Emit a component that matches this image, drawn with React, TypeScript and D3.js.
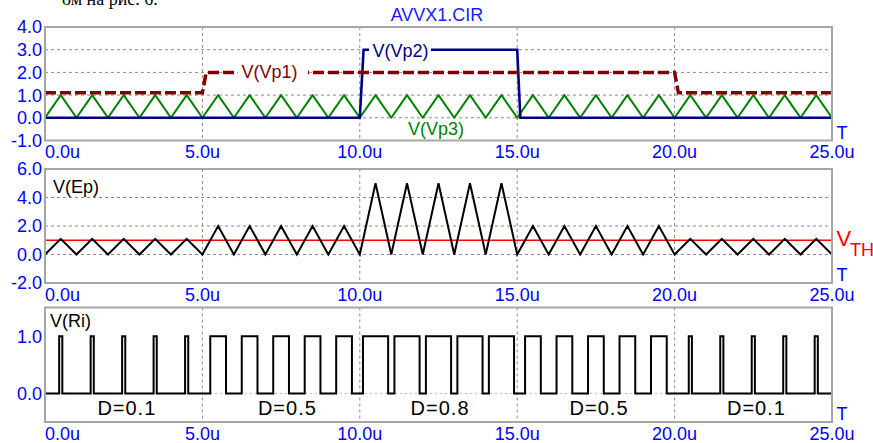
import React from 'react';
import * as d3 from 'd3';

// ---------- data ----------
const xTicks = [0, 5, 10, 15, 20, 25];
const xTickLabels = ['0.0u', '5.0u', '10.0u', '15.0u', '20.0u', '25.0u'];

const topYTicks = [4, 3, 2, 1, 0, -1];
const topYLabels = ['4.0', '3.0', '2.0', '1.0', '0.0', '-1.0'];
const midYTicks = [6, 4, 2, 0, -2];
const midYLabels = ['6.0', '4.0', '2.0', '0.0', '-2.0'];
const botYTicks = [1, 0];
const botYLabels = ['1.0', '0.0'];

// V(Vp1) step waveform (t in us, volts)
const vp1T = [0, 5, 5.12, 20, 20.12, 25];
const vp1V = [1.1, 1.1, 2.0, 2.0, 1.1, 1.1];

// V(Vp2) pulse
const vp2T = [0, 10, 10.12, 15, 15.1, 25];
const vp2V = [0, 0, 3.0, 3.0, 0, 0];

// Triangle sample times (us)
const triT = [
  0, 0.5, 1, 1.5, 2, 2.5, 3, 3.5, 4, 4.5, 5, 5.5, 6, 6.5, 7, 7.5, 8, 8.5, 9, 9.5,
  10, 10.5, 11, 11.5, 12, 12.5, 13, 13.5, 14, 14.5, 15, 15.5, 16, 16.5, 17, 17.5,
  18, 18.5, 19, 19.5, 20, 20.5, 21, 21.5, 22, 22.5, 23, 23.5, 24, 24.5, 25,
];
// V(Vp3) triangle 0..1
const vp3V = [
  0, 1, 0, 1, 0, 1, 0, 1, 0, 1, 0, 1, 0, 1, 0, 1, 0, 1, 0, 1,
  0, 1, 0, 1, 0, 1, 0, 1, 0, 1, 0, 1, 0, 1, 0, 1,
  0, 1, 0, 1, 0, 1, 0, 1, 0, 1, 0, 1, 0, 1, 0,
];
// V(Ep)
const epV = [
  0, 1.1, 0, 1.1, 0, 1.1, 0, 1.1, 0, 1.1, 0, 2, 0, 2, 0, 2, 0, 2, 0, 2,
  0, 5, 0, 5, 0, 5, 0, 5, 0, 5, 0, 2, 0, 2, 0, 2, 0, 2, 0, 2,
  0, 1.1, 0, 1.1, 0, 1.1, 0, 1.1, 0, 1.1, 0,
];
const vth = 1.0;

// V(Ri) PWM pulses: rising and falling edge times (us)
const riRise = [
  0.45, 1.45, 2.45, 3.45, 4.45,
  5.25, 6.25, 7.25, 8.25, 9.25,
  10.1, 11.1, 12.1, 13.1, 14.1,
  15.25, 16.25, 17.25, 18.25, 19.25,
  20.45, 21.45, 22.45, 23.45, 24.45,
];
const riFall = [
  0.55, 1.55, 2.55, 3.55, 4.55,
  5.75, 6.75, 7.75, 8.75, 9.75,
  10.9, 11.9, 12.9, 13.9, 14.9,
  15.75, 16.75, 17.75, 18.75, 19.75,
  20.55, 21.55, 22.55, 23.55, 24.55,
];

const dLabels = ['D=0.1', 'D=0.5', 'D=0.8', 'D=0.5', 'D=0.1'];
const dLabelT = [2.6, 7.7, 12.55, 17.6, 22.6];

// ---------- layout ----------
const W = 873;
const H = 443;
const FONT = 'Liberation Sans, Arial, Helvetica, sans-serif';
const X0 = 45;
const X1 = 832;

const x = d3.scaleLinear().domain([0, 25]).range([X0, X1]);
const yTop = d3.scaleLinear().domain([-1, 4]).range([140.5, 27]);
const yMid = d3.scaleLinear().domain([-2, 6]).range([283, 169]);
const yBot = d3.scaleLinear().domain([-0.5, 1.5]).range([422, 307.5]);

type Pt = [number, number];
const zip = (ts: number[], vs: number[]): Pt[] => ts.map((t, i) => [t, vs[i]]);

function Panel({
  y,
  yTicks,
  yLabels,
  hGrid,
  gridColor,
  gridDash,
}: {
  y: d3.ScaleLinear<number, number>;
  yTicks: number[];
  yLabels: string[];
  hGrid: number[];
  gridColor: string;
  gridDash: string;
}) {
  const [yb, yt] = y.range();
  return (
    <g>
      {xTicks.slice(1, -1).map((t) => (
        <line key={'v' + t} x1={x(t)} x2={x(t)} y1={yt} y2={yb} stroke="#8a8a8a" strokeWidth={1} strokeDasharray="3 3" />
      ))}
      {hGrid.map((v) => (
        <line key={'h' + v} x1={X0} x2={X1} y1={y(v)} y2={y(v)} stroke={gridColor} strokeWidth={1} strokeDasharray={gridDash} />
      ))}
      {yTicks.map((v, i) => (
        <text key={'yl' + v} x={42} y={y(v)} dy="0.36em" textAnchor="end" fontSize={18} fill="#0000ff" fontFamily={FONT}>
          {yLabels[i]}
        </text>
      ))}
      {xTicks.map((t, i) => (
        <text
          key={'xl' + t}
          x={i === 0 ? X0 : x(t)}
          y={yb + 17.5}
          textAnchor={i === 0 ? 'start' : 'middle'}
          fontSize={18}
          fill="#0000ff"
          fontFamily={FONT}
        >
          {xTickLabels[i]}
        </text>
      ))}
      <text x={836.5} y={yb - 2} fontSize={18} fill="#0000ff" fontFamily={FONT}>T</text>
    </g>
  );
}

function Frame({ y }: { y: d3.ScaleLinear<number, number> }) {
  const [yb, yt] = y.range();
  return <rect x={X0} y={yt} width={X1 - X0} height={yb - yt} fill="none" stroke="#a6a6a6" strokeWidth={2} />;
}

export default function App() {
  const lineTop = d3.line<Pt>().x((d) => x(d[0])).y((d) => yTop(d[1]));
  const lineMid = d3.line<Pt>().x((d) => x(d[0])).y((d) => yMid(d[1]));
  const lineBot = d3.line<Pt>().x((d) => x(d[0])).y((d) => yBot(d[1]));

  const riPts: Pt[] = [[0, 0]];
  riRise.forEach((r, i) => {
    riPts.push([r, 0], [r, 1], [riFall[i], 1], [riFall[i], 0]);
  });
  riPts.push([25, 0]);

  return (
    <svg width={W} height={H} style={{ position: 'absolute', left: 0, top: 0, background: '#fff' }}>
      <rect x={0} y={0} width={W} height={H} fill="#fff" />
      <text x={62} y={5} fontSize={18} fontFamily="Liberation Serif, Times New Roman, serif" fill="#000">
        ом на рис. 6.
      </text>
      <text x={437} y={20.5} textAnchor="middle" fontSize={18} fill="#1a1aff" fontFamily={FONT}>
        AVVX1.CIR
      </text>

      {/* ---------- top panel ---------- */}
      <Panel y={yTop} yTicks={topYTicks} yLabels={topYLabels} hGrid={[3, 2, 1, 0]} gridColor="#8a8a8a" gridDash="3 3" />
      <path d={lineTop(zip(triT, vp3V)) || ''} fill="none" stroke="#008000" strokeWidth={2} strokeLinejoin="round" />
      <path d={lineTop(zip(vp2T, vp2V)) || ''} fill="none" stroke="#000080" strokeWidth={2.6} />
      <path d={lineTop(zip(vp1T, vp1V)) || ''} fill="none" stroke="#800000" strokeWidth={3.5} strokeDasharray="11 4" />
      <rect x={238} y={62} width={70} height={19} fill="#fff" />
      <text x={241.5} y={77.5} fontSize={18} fill="#800000" fontFamily={FONT}>V(Vp1)</text>
      <rect x={369} y={40} width={62} height={19} fill="#fff" />
      <text x={372.5} y={57.3} fontSize={18} fill="#000080" fontFamily={FONT}>V(Vp2)</text>
      <text x={408} y={134.5} fontSize={18} fill="#008000" fontFamily={FONT}>V(Vp3)</text>
      <Frame y={yTop} />

      {/* ---------- middle panel ---------- */}
      <Panel y={yMid} yTicks={midYTicks} yLabels={midYLabels} hGrid={[4, 2, 0]} gridColor="#8a8a8a" gridDash="3 3" />
      <line x1={X0} x2={X1} y1={yMid(vth)} y2={yMid(vth)} stroke="#ff0000" strokeWidth={1.5} />
      <path d={lineMid(zip(triT, epV)) || ''} fill="none" stroke="#000" strokeWidth={2} strokeLinejoin="miter" />
      <text x={53} y={192.8} fontSize={18} fill="#000" fontFamily={FONT}>V(Ep)</text>
      <text x={836.5} y={246} fontSize={22} fill="#ff0000" fontFamily={FONT}>V</text>
      <text x={850} y={256} fontSize={18} fill="#ff0000" fontFamily={FONT}>TH</text>
      <Frame y={yMid} />

      {/* ---------- bottom panel ---------- */}
      <Panel y={yBot} yTicks={botYTicks} yLabels={botYLabels} hGrid={[0]} gridColor="#b8b8b8" gridDash="2 3" />
      <path d={lineBot(riPts) || ''} fill="none" stroke="#000" strokeWidth={2} />
      <text x={50} y={327.3} fontSize={18} fill="#000" fontFamily={FONT}>V(Ri)</text>
      {dLabels.map((s, i) => (
        <text key={'d' + i} x={x(dLabelT[i])} y={414.5} textAnchor="middle" fontSize={20} letterSpacing={1} fill="#000" fontFamily={FONT}>
          {s}
        </text>
      ))}
      <Frame y={yBot} />
    </svg>
  );
}
